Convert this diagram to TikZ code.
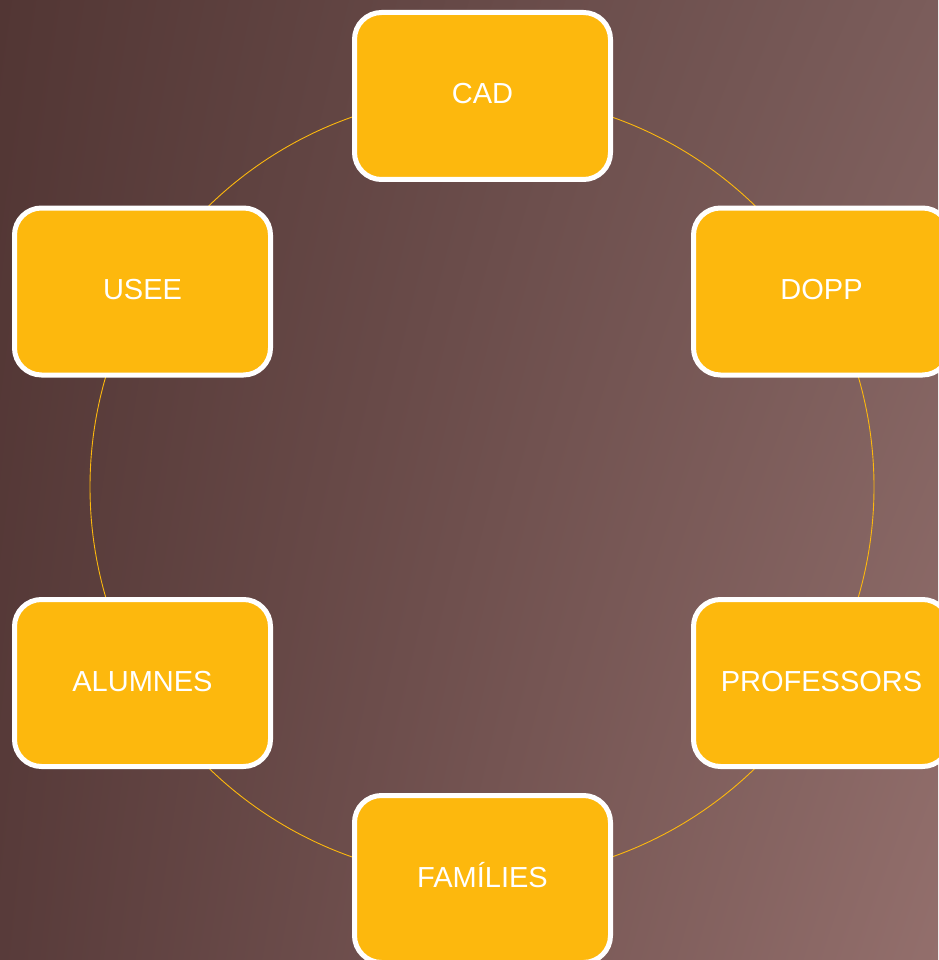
\documentclass[tikz,border=0pt]{standalone}
\usepackage{fontspec}
\setmainfont{Liberation Sans}
\usetikzlibrary{shadings}
\definecolor{boxfill}{HTML}{FDB80D}
\definecolor{bgul}{HTML}{523634}
\definecolor{bgur}{HTML}{7B5D5B}
\definecolor{bgll}{HTML}{583B3A}
\definecolor{bglr}{HTML}{936F6C}
\tikzset{
  cyclebox/.style={draw=white, line width=5pt, fill=boxfill, rounded corners=27pt,
    minimum width=256pt, minimum height=167pt, inner sep=0pt, text=white,
    text height=21pt, text depth=5pt,
    font=\fontsize{29}{34}\selectfont},
  ring/.style={draw=boxfill, line width=0.9pt}
}
\begin{document}
\begin{tikzpicture}[x=1pt,y=-1pt]
\useasboundingbox (0,0) rectangle (938,960);
\shade[upper left=bgul, upper right=bgur, lower left=bgll, lower right=bglr] (0,0) rectangle (938,960);
\coordinate (c) at (482,487);
\draw[ring] (c) circle[radius=392];
\node[cyclebox] (cad) at (482.5,96) {CAD};
\node[cyclebox] (dopp) at (821.5,291.5) {DOPP};
\node[cyclebox] (prof) at (821.5,683) {PROFESSORS};
\node[cyclebox] (fam) at (482.5,879) {FAMÍLIES};
\node[cyclebox] (alum) at (142.5,683) {ALUMNES};
\node[cyclebox] (usee) at (142.5,291.5) {USEE};
\end{tikzpicture}
\end{document}
